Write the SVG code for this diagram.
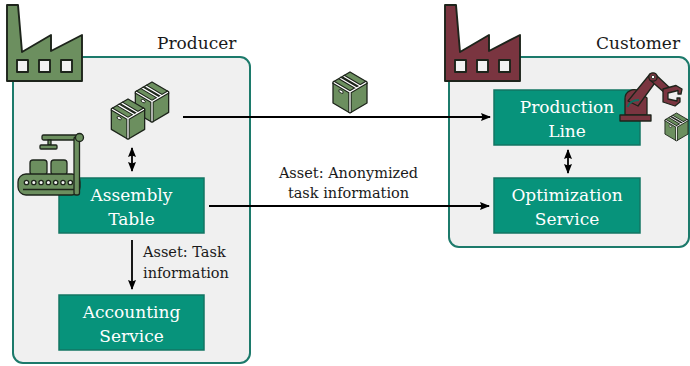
<svg xmlns="http://www.w3.org/2000/svg" xmlns:xlink="http://www.w3.org/1999/xlink" width="690" height="366" viewBox="0 0 690 366">
  <style>
    .site { fill: #f0f0f0; stroke: #1c7a6b; stroke-width: 2; }
    .node rect { fill: #07937b; stroke: #137563; stroke-width: 1.5; }
    .node text { fill: #ffffff; font-family: "DejaVu Serif", "Liberation Serif", serif; font-size: 17px; text-anchor: middle; }
    .title { fill: #1a1a1a; font-family: "DejaVu Serif", "Liberation Serif", serif; font-size: 17px; }
    .label { fill: #1a1a1a; font-family: "DejaVu Serif", "Liberation Serif", serif; font-size: 14.5px; }
    .edge { stroke: #000000; stroke-width: 1.8; fill: none; }
    .ink { stroke: #1d241b; stroke-width: 1.3; stroke-linejoin: round; }
    .bold { stroke-width: 1.9; }
    .green { fill: #6c8f5f; }
    .maroon { fill: #7a3540; }
    .win { fill: #f2f2f2; }
    .seam-dark { stroke: #1d241b; stroke-width: 3.4; fill: none; }
    .seam-light { stroke: #ffffff; stroke-width: 1.3; fill: none; }
  </style>
  <defs>
    <marker id="head" viewBox="0 0 10 8" refX="9" refY="4" markerWidth="10" markerHeight="8" markerUnits="userSpaceOnUse" orient="auto-start-reverse">
      <path d="M0,0 L10,4 L0,8 L1.5,4 Z" fill="#000000"/>
    </marker>
    <!-- cardboard crate, top vertex at the origin -->
    <g id="crate">
      <path class="green" d="M0,0 L17,10 L17,31 L0,41 L-17,31 L-17,10 Z"/>
      <path class="seam-dark" d="M-17,10 L0,20 L17,10 M0,20 L0,41 M-6.8,4 L10.2,14 M-10.2,6 L6.8,16"/>
      <path class="seam-light" d="M-17,10 L0,20 L17,10 M0,20 L0,41 M-6.8,4 L10.2,14 M-10.2,6 L6.8,16"/>
      <ellipse cx="-9" cy="19.5" rx="2.4" ry="1.4" transform="rotate(30 -9 19.5)" fill="#ffffff" stroke="#1d241b" stroke-width="0.9"/>
      <path d="M0,0 L17,10 L17,31 L0,41 L-17,31 L-17,10 Z" fill="none" class="ink"/>
    </g>
    <!-- factory silhouette -->
    <g id="factory">
      <path class="ink bold" d="M7,5 L18,5 L22,52 L51,35 L51,51 L82,35 L82,81 L7,81 Z"/>
      <rect class="win ink bold" x="17" y="60" width="11" height="12"/>
      <rect class="win ink bold" x="39" y="60" width="11" height="12"/>
      <rect class="win ink bold" x="61" y="60" width="11" height="12"/>
    </g>
  </defs>

  <!-- sites -->
  <g id="producer">
    <rect class="site" x="13" y="57" width="237" height="306" rx="10"/>
    <use xlink:href="#factory" class="green"/>
    <text class="title" x="157" y="49">Producer</text>
  </g>
  <g id="customer">
    <rect class="site" x="449" y="57" width="240" height="190" rx="10"/>
    <use xlink:href="#factory" class="maroon" transform="translate(438,0)"/>
    <text class="title" x="596" y="49">Customer</text>
  </g>

  <!-- connectors -->
  <g id="connectors">
    <line class="edge" x1="183" y1="117" x2="490" y2="117" marker-end="url(#head)"/>
    <line class="edge" x1="209" y1="206" x2="489" y2="206" marker-end="url(#head)"/>
    <line class="edge" x1="132" y1="240" x2="132" y2="289" marker-end="url(#head)"/>
    <line class="edge" x1="132" y1="148" x2="132" y2="171" marker-start="url(#head)" marker-end="url(#head)"/>
    <line class="edge" x1="568" y1="150" x2="568" y2="173" marker-start="url(#head)" marker-end="url(#head)"/>
    <text class="label" x="143" y="257">Asset: Task</text>
    <text class="label" x="143" y="278">information</text>
    <text class="label" x="348.5" y="178" text-anchor="middle">Asset: Anonymized</text>
    <text class="label" x="348.5" y="198" text-anchor="middle">task information</text>
  </g>

  <!-- crates -->
  <g id="goods">
    <use xlink:href="#crate" transform="translate(152,82) scale(0.98)"/>
    <use xlink:href="#crate" transform="translate(128,99) scale(0.98)"/>
  </g>
  <g id="shipment">
    <use xlink:href="#crate" transform="translate(350,72)"/>
  </g>

  <!-- nodes -->
  <g id="assembly-table" class="node">
    <rect x="59" y="178" width="145" height="55"/>
    <text x="131.5" y="201">Assembly</text>
    <text x="131.5" y="225">Table</text>
  </g>
  <g id="accounting-service" class="node">
    <rect x="59" y="295" width="145" height="55"/>
    <text x="131.5" y="318">Accounting</text>
    <text x="131.5" y="342">Service</text>
  </g>
  <g id="production-line" class="node">
    <rect x="494" y="90" width="146" height="55"/>
    <text x="567" y="113">Production</text>
    <text x="567" y="137">Line</text>
  </g>
  <g id="optimization-service" class="node">
    <rect x="494" y="178" width="146" height="55"/>
    <text x="567" y="201">Optimization</text>
    <text x="567" y="225">Service</text>
  </g>

  <!-- assembly conveyor -->
  <g id="conveyor">
    <rect class="green ink" x="42" y="135" width="40" height="5" rx="1.5"/>
    <rect class="green ink" x="48" y="140" width="3" height="5"/>
    <rect class="green ink" x="40" y="145" width="17" height="4" rx="1"/>
    <rect class="green ink" x="30" y="160" width="17" height="15" rx="3"/>
    <rect class="green ink" x="51" y="160" width="16" height="15" rx="3"/>
    <rect class="green ink" x="18" y="174" width="62" height="21" rx="8"/>
    <path class="ink" d="M23,189.5 H75" fill="none"/>
    <g class="ink" fill="#f2f2f2" stroke-width="1">
      <circle cx="26.5" cy="182.5" r="2.2"/>
      <circle cx="33.8" cy="182.5" r="2.2"/>
      <circle cx="41.1" cy="182.5" r="2.2"/>
      <circle cx="48.4" cy="182.5" r="2.2"/>
      <circle cx="55.7" cy="182.5" r="2.2"/>
      <circle cx="63" cy="182.5" r="2.2"/>
      <circle cx="70.3" cy="182.5" r="2.2"/>
    </g>
    <rect class="green ink" x="74" y="137" width="5.5" height="58" rx="2"/>
    <circle class="green ink" cx="79.5" cy="137.5" r="4"/>
  </g>

  <!-- robot arm -->
  <g id="robot">
    <path class="maroon ink" d="M625,115 V99 A9,9 0 0 1 640,92 L647,98 V115 Z"/>
    <path class="maroon ink" d="M628,101 L650,74 L657,80 L638,106 Z"/>
    <path d="M627.5,107 Q630,100 639,100" fill="none" stroke="#0f6e5f" stroke-width="2"/>
    <path class="maroon ink" d="M650,80 L655,74 L671,89 L666,94 Z"/>
    <circle class="maroon ink" cx="653" cy="77" r="4.2"/>
    <circle cx="653" cy="77" r="1.7" fill="#ffffff" stroke="#1d241b" stroke-width="0.8"/>
    <path class="maroon ink" d="M663,89 L676,85.5 L682,89 L681,94 L678,94 L678,90.5 L668,93 L668,99 L677,101 L677,98 L680,98 L680,102 L675,106 L663,102 Z"/>
    <rect class="maroon ink" x="620" y="115" width="31" height="6"/>
  </g>
  <g id="robot-crate">
    <use xlink:href="#crate" transform="translate(676.5,113) scale(0.68)"/>
  </g>
</svg>
